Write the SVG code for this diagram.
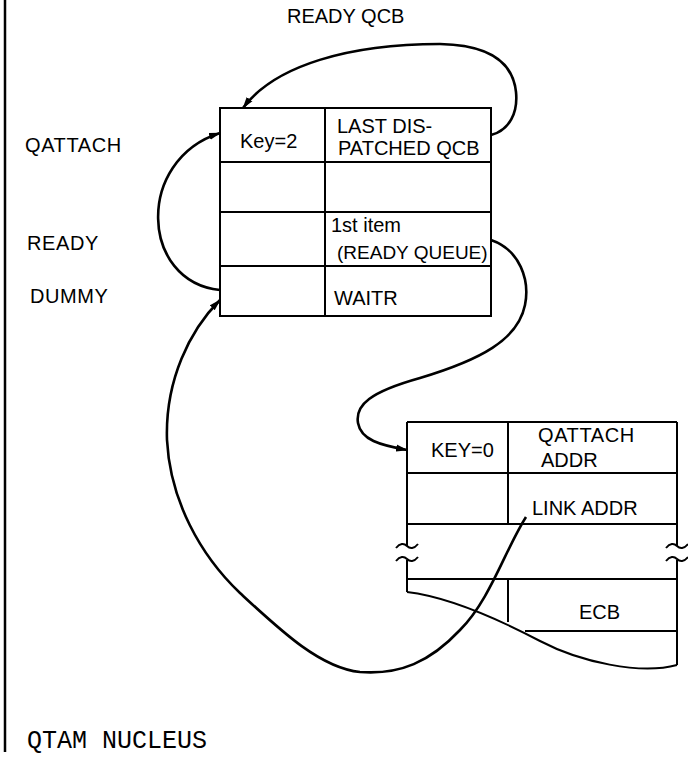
<svg xmlns="http://www.w3.org/2000/svg" width="688" height="760" viewBox="0 0 688 760">
<style>
.t{font-family:"Liberation Sans",Arial,sans-serif;font-size:20px;fill:#000}
.w{letter-spacing:0.6px}
.m{font-family:"Liberation Mono","Courier New",monospace;font-size:25px;fill:#000}
.box{fill:none;stroke:#000;stroke-width:2}
.c{fill:none;stroke:#000;stroke-width:2.6}
</style>
<defs>
<marker id="ah" markerWidth="12" markerHeight="8" refX="11" refY="4" orient="auto" markerUnits="userSpaceOnUse">
<path d="M0,0.5 L12,4 L0,7.5 Z" fill="#000"/>
</marker>
<path id="tilde" d="M -11 2 C -7 -3, -3 -3, 0 0 C 3 3, 7 3, 11 -2" fill="none" stroke="#000" stroke-width="2"/>
</defs>
<rect width="688" height="760" fill="#fff"/>
<line x1="5" y1="0" x2="5" y2="752" stroke="#000" stroke-width="2.5"/>
<text class="t" x="287" y="23">READY QCB</text>
<text class="t w" x="25" y="152">QATTACH</text>
<text class="t w" x="27" y="250">READY</text>
<text class="t w" x="30" y="303">DUMMY</text>
<text class="m" x="27" y="748">QTAM NUCLEUS</text>
<g id="ready-qcb">
<rect class="box" x="220" y="108" width="271" height="208"/>
<line class="box" x1="220" y1="162" x2="491" y2="162"/>
<line class="box" x1="220" y1="212" x2="491" y2="212"/>
<line class="box" x1="220" y1="266" x2="491" y2="266"/>
<line class="box" x1="325" y1="108" x2="325" y2="316"/>
<text class="t" x="240" y="148">Key=2</text>
<text class="t" x="337" y="133">LAST DIS-</text>
<text class="t" x="338" y="155">PATCHED QCB</text>
<text class="t" x="331" y="232">1st item</text>
<text class="t" x="337" y="259" style="font-size:19px">(READY QUEUE)</text>
<text class="t" x="334" y="305">WAITR</text>
</g>
<g id="qcb2">
<line class="box" x1="407" y1="422" x2="677" y2="422"/>
<line class="box" x1="407" y1="422" x2="407" y2="546"/>
<line class="box" x1="407" y1="560" x2="407" y2="592"/>
<line class="box" x1="677" y1="422" x2="677" y2="546"/>
<line class="box" x1="677" y1="560" x2="677" y2="665"/>
<line class="box" x1="407" y1="473" x2="677" y2="473"/>
<line class="box" x1="407" y1="524" x2="677" y2="524"/>
<line class="box" x1="407" y1="579" x2="677" y2="579"/>
<line class="box" x1="525" y1="631" x2="677" y2="631"/>
<line class="box" x1="508" y1="422" x2="508" y2="524"/>
<line class="box" x1="508" y1="579" x2="508" y2="622"/>
<path class="box" d="M 407 592 C 450 597, 500 620, 540 641 C 580 662, 640 675, 677 665"/>
<use href="#tilde" x="407" y="546"/>
<use href="#tilde" x="407" y="559"/>
<use href="#tilde" x="677" y="546"/>
<use href="#tilde" x="677" y="559"/>
<text class="t" x="431" y="457">KEY=0</text>
<text class="t w" x="538" y="442">QATTACH</text>
<text class="t" x="541" y="467">ADDR</text>
<text class="t" x="532" y="515">LINK ADDR</text>
<text class="t" x="579" y="619">ECB</text>
</g>
<g id="connectors">
<path class="c" marker-end="url(#ah)" d="M 491 135 C 510 130, 518 112, 516 92 C 513 62, 490 45, 440 44 C 350 44, 275 65, 243 108"/>
<path class="c" marker-end="url(#ah)" d="M 220 290 C 140 282, 135 160, 220 133"/>
<path class="c" marker-end="url(#ah)" d="M 491 240 C 520 250, 530 280, 525 305 C 518 340, 480 360, 420 378 C 370 392, 355 405, 358 423 C 361 440, 380 445, 407 450"/>
<path class="c" marker-end="url(#ah)" d="M 526 517 C 505 550, 490 600, 460 630 C 430 662, 400 675, 360 672 C 320 668, 280 630, 240 593 C 200 555, 170 500, 167 440 C 165 380, 190 330, 220 300"/>
</g>
</svg>
